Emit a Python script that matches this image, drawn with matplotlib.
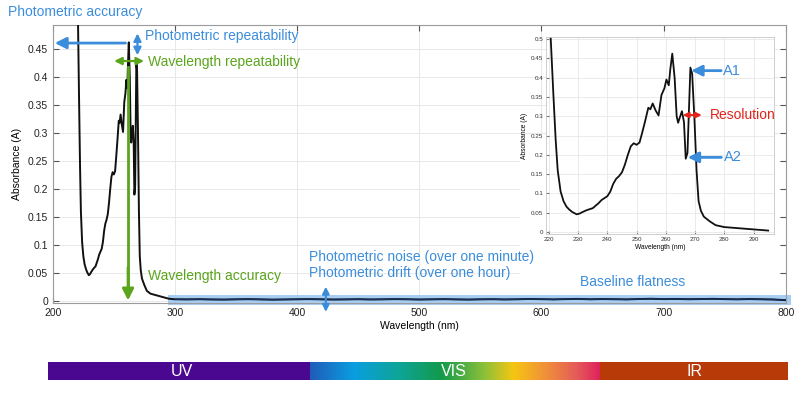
import numpy as np
import matplotlib
matplotlib.use('Agg')
import matplotlib.pyplot as plt
from matplotlib.colors import LinearSegmentedColormap
from matplotlib.patches import Rectangle

plt.rcParams['font.family'] = ['Liberation Sans', 'DejaVu Sans']

# absorbance spectrum (nm, A)
peak_nm = [219.5, 220.5, 221.5, 222.3, 223, 224, 225, 226, 227, 228, 229.5, 230.5, 231.5,
           233, 235, 237, 238, 240, 241, 242, 243, 244, 245, 246, 247, 248, 249, 250,
           251, 252, 253, 254, 254.7, 255.5, 256.5, 257.5, 258.5, 259.5, 260.2, 261,
           261.5, 262.2, 263, 263.7, 264.2, 264.7, 265.5, 266.2, 266.8, 267.4, 268.4,
           269, 269.8, 270.5, 271.2, 272, 273, 275, 277, 280, 285, 290, 295]
peak_abs = [0.75, 0.52, 0.36, 0.24, 0.16, 0.105, 0.08, 0.066, 0.058, 0.052, 0.046, 0.048, 0.052,
            0.057, 0.062, 0.075, 0.083, 0.093, 0.105, 0.125, 0.138, 0.145, 0.155, 0.175, 0.2,
            0.222, 0.23, 0.226, 0.232, 0.26, 0.29, 0.322, 0.318, 0.333, 0.315, 0.302, 0.355,
            0.372, 0.395, 0.38, 0.42, 0.462, 0.4, 0.3, 0.283, 0.295, 0.313, 0.285, 0.19,
            0.205, 0.426, 0.41, 0.29, 0.16, 0.08, 0.055, 0.04, 0.028, 0.018, 0.013, 0.01,
            0.007, 0.004]

# flat baseline above 295 nm
base_nm = list(range(300, 801, 10))
base_abs = [0.003, 0.0028, 0.0031, 0.0027, 0.0025, 0.0029, 0.0032, 0.0028, 0.0024, 0.0027,
            0.003, 0.0033, 0.0029, 0.0026, 0.0028, 0.0031, 0.0027, 0.0029, 0.0033, 0.003,
            0.0026, 0.0029, 0.0032, 0.0028, 0.0025, 0.0029, 0.0031, 0.0027, 0.003, 0.0036,
            0.0032, 0.0028, 0.0033, 0.0037, 0.003, 0.0034, 0.0031, 0.0028, 0.0035, 0.0039,
            0.0033, 0.0036, 0.0031, 0.0034, 0.0038, 0.0033, 0.0029, 0.0034, 0.003, 0.0026,
            0.0015]

bands = ['UV', 'VIS', 'IR']
band_edges = [48, 310, 600, 788]   # along the spectrum strip

blue = '#3b8ddb'
green = '#5aa51c'
red = '#e3241c'
gridc = '#e8e8e8'
spinec = '#9a9a9a'

fig = plt.figure(figsize=(8, 3.94), dpi=100)

# main axes
ax = fig.add_axes([0.066, 0.231, 0.9162, 0.7056])
ax.plot(peak_nm + base_nm, peak_abs + base_abs, color='#111111', lw=1.4, zorder=3)
ax.plot(base_nm, base_abs, color='#15305a', lw=1.0, zorder=3)
ax.set_xlim(200, 800)
ax.set_ylim(-0.0036, 0.493)
ax.set_xticks([200, 300, 400, 500, 600, 700, 800])
yt = [0, 0.05, 0.1, 0.15, 0.2, 0.25, 0.3, 0.35, 0.4, 0.45]
ax.set_yticks(yt)
ax.set_yticklabels(['%g' % v for v in yt])
ax.grid(True, color=gridc, lw=0.7)
ax.set_axisbelow(True)
ax.tick_params(direction='in', top=True, right=True, length=4, labelsize=7.5,
               color='#555555', labelcolor='#222222')
for s in ax.spines.values():
    s.set_color(spinec)
    s.set_linewidth(0.8)
ax.set_xlabel('Wavelength (nm)', fontsize=7.5, labelpad=2)
ax.set_ylabel('Absorbance (A)', fontsize=7.5, labelpad=4)

# baseline band
ax.add_patch(Rectangle((294, -0.0071), 510, 0.0178, facecolor='#a2cbf3', alpha=0.95,
                       edgecolor='none', zorder=2, clip_on=False))

# white area behind inset
ax.add_patch(Rectangle((520, 31), 259, 224, transform=None, facecolor='white',
                       edgecolor='none', zorder=1))

def arrow(a, tail, tip, col, style='-|>', ms=18, lw=2):
    a.annotate('', xy=tip, xytext=tail, annotation_clip=False,
               arrowprops=dict(arrowstyle=style, color=col, lw=lw, mutation_scale=ms,
                               shrinkA=0, shrinkB=0), zorder=5)

fs = 10
arrow(ax, (259.5, 0.4607), (201.6, 0.4607), blue, ms=17)
arrow(ax, (269.3, 0.439), (269.3, 0.478), blue, '<|-|>', 11, 1.6)
ax.text(275.3, 0.473, 'Photometric repeatability', color=blue, fontsize=fs, va='center')
ax.plot([261.6, 261.6], [0.418, 0.02], color=green, lw=2, zorder=4)
arrow(ax, (261.6, 0.06), (261.6, 0.001), green, ms=17)
arrow(ax, (250.2, 0.4286), (274.7, 0.4286), green, '<|-|>', 11, 1.6)
ax.text(277.8, 0.427, 'Wavelength repeatability', color=green, fontsize=fs, va='center')
ax.text(277.8, 0.0446, 'Wavelength accuracy', color=green, fontsize=fs, va='center')
ax.text(409.5, 0.079, 'Photometric noise (over one minute)', color=blue, fontsize=fs, va='center')
ax.text(409.5, 0.0495, 'Photometric drift (over one hour)', color=blue, fontsize=fs, va='center')
arrow(ax, (423.5, -0.0196), (423.5, 0.0256), blue, '<|-|>', 10, 1.6)
ax.text(631.4, 0.0345, 'Baseline flatness', color=blue, fontsize=fs, va='center')
fig.text(8 / 800, 1 - 12 / 394, 'Photometric accuracy', color=blue, fontsize=fs, va='center')

# inset
ins = fig.add_axes([0.6825, 0.406, 0.285, 0.5])
ins.plot(peak_nm, peak_abs, color='#111111', lw=1.3)
ins.set_xlim(219, 297)
ins.set_ylim(-0.005, 0.505)
ins.set_xticks([220, 230, 240, 250, 260, 270, 280, 290])
iyt = [0, 0.05, 0.1, 0.15, 0.2, 0.25, 0.3, 0.35, 0.4, 0.45, 0.5]
ins.set_yticks(iyt)
ins.set_yticklabels(['%g' % v for v in iyt])
ins.grid(True, color=gridc, lw=0.6)
ins.tick_params(direction='in', length=2, labelsize=4.5, color='#777777',
                labelcolor='#333333', pad=2)
for s in ins.spines.values():
    s.set_color('#c8c8c8')
    s.set_linewidth(0.6)
ins.set_xlabel('Wavelength (nm)', fontsize=4.8, labelpad=1.5)
ins.set_ylabel('Absorbance (A)', fontsize=4.8, labelpad=2)
arrow(ins, (278.9, 0.418), (268.7, 0.418), blue, ms=16)
ins.text(279.7, 0.418, 'A1', color=blue, fontsize=10.5, va='center')
arrow(ins, (279.0, 0.1935), (267.5, 0.1935), blue, ms=16)
ins.text(280.0, 0.1935, 'A2', color=blue, fontsize=10.5, va='center')
arrow(ins, (265.8, 0.303), (272.3, 0.303), red, '<|-|>', 8, 1.5)
ins.text(275.0, 0.303, 'Resolution', color=red, fontsize=10, va='center')

# spectrum strip
bar = fig.add_axes([48 / 800, 1 - 380 / 394, 740 / 800, 18 / 394])
bar.set_xlim(band_edges[0], band_edges[-1])
bar.set_ylim(0, 1)
bar.axis('off')
bar.add_patch(Rectangle((band_edges[0], 0), band_edges[1] - band_edges[0], 1,
                        facecolor='#4a0890', edgecolor='none'))
bar.add_patch(Rectangle((band_edges[2], 0), band_edges[3] - band_edges[2], 1,
                        facecolor='#b83a08', edgecolor='none'))
vis_cmap = LinearSegmentedColormap.from_list('vis', [
    (0.0, '#1f5cb8'), (0.15, '#0a9ee0'), (0.3, '#0ea59a'), (0.45, '#129a4c'),
    (0.6, '#8cc03a'), (0.7, '#f6c612'), (0.82, '#f08c3c'), (0.92, '#e45a5a'),
    (1.0, '#e0205c')])
bar.imshow(np.linspace(0, 1, 256).reshape(1, -1), cmap=vis_cmap, aspect='auto',
           extent=[band_edges[1], band_edges[2], 0, 1])
bar.set_xlim(band_edges[0], band_edges[-1])
bar.set_ylim(0, 1)
label_x = [182, 454, 694]
for name, lx in zip(bands, label_x):
    bar.text(lx, 0.5, name, color='white', fontsize=11.5, ha='center', va='center')

fig.savefig('out.png', dpi=100)
